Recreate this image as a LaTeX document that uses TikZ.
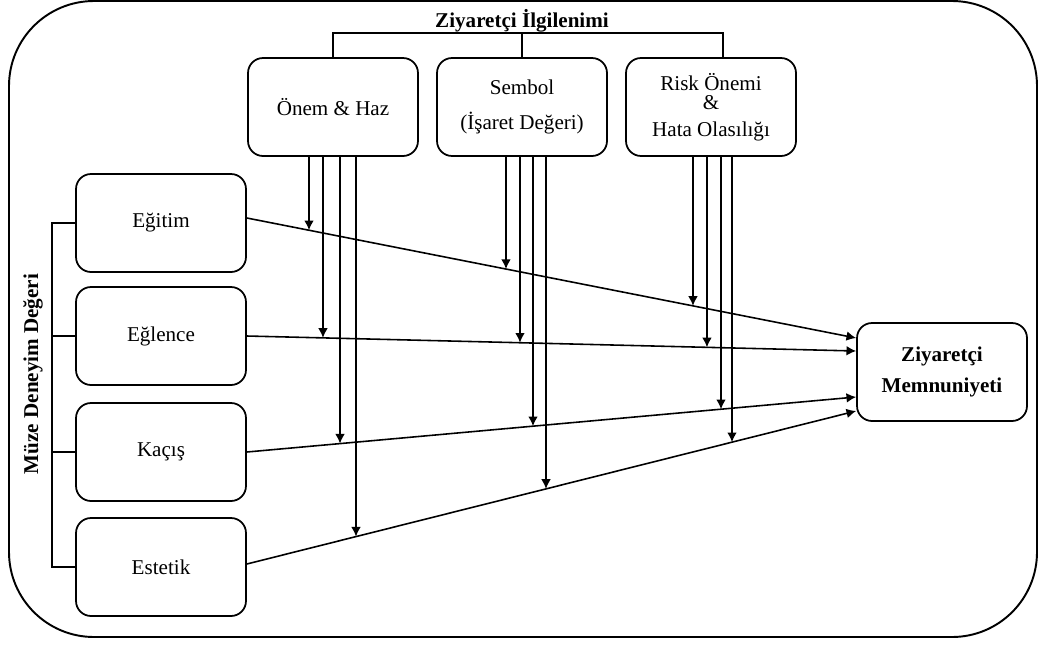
\documentclass[tikz,border=0pt]{standalone}
\usepackage{fontspec}
\setmainfont{Liberation Serif}
\usetikzlibrary{arrows.meta}

\tikzset{
  kutu/.style={draw, line width=1pt, rounded corners=0.3cm, minimum width=3.4cm,
    minimum height=1.96cm, align=center, font=\fontsize{12}{14}\selectfont},
  baslik/.style={font=\bfseries\fontsize{12}{14}\selectfont},
  ok/.style={-{Latex[length=5.5pt,width=5.5pt]}, line width=0.9pt},
}

\begin{document}
\begin{tikzpicture}[x=0.02cm, y=-0.02cm, line width=0.9pt]
    \useasboundingbox (0,0) rectangle (1040,646);
    % Dış çerçeve
    \draw[line width=1.1pt, rounded corners=1.7cm] (9,1) rectangle (1037,637);

    % Ziyaretçi ilgilenimi kutuları
    \node[baslik] (ilgi) at (522,21) {Ziyaretçi İlgilenimi};
    \node[kutu] (onem) at (333,107) {Önem \& Haz};
    \node[kutu] (sembol) at (522,107) {Sembol\\[6pt](İşaret Değeri)};
    \node[kutu] (risk) at (711,107) {Risk Önemi\\[-3pt]\&\\[1pt]Hata Olasılığı};
    \coordinate (bar) at (522,33);
    \draw (onem.north) |- (bar) -| ([xshift=0.24cm]risk.north);
    \draw (sembol.north) -- (bar);

    % Müze deneyim değeri kutuları
    \node[kutu] (egitim) at (161,223) {Eğitim};
    \node[kutu] (eglence) at (161,336) {Eğlence};
    \node[kutu] (kacis) at (161,452) {Kaçış};
    \node[kutu] (estetik) at (161,567) {Estetik};
    \node[baslik, rotate=90] (muze) at (33,374) {Müze Deneyim Değeri};
    \draw (egitim.west) -- ++(-23,0) coordinate (k1) |- (estetik.west);
    \draw (eglence.west) -- (eglence.west -| k1);
    \draw (kacis.west) -- (kacis.west -| k1);

    % Memnuniyet
    \node[kutu, baslik] (memnun) at (942,372) {Ziyaretçi\\[4pt]Memnuniyeti};

    % Ana yollar
    \coordinate (s1) at ([yshift=0.1cm]egitim.east);
    \coordinate (s2) at (eglence.east);
    \coordinate (s3) at (kacis.east);
    \coordinate (s4) at ([yshift=0.06cm]estetik.east);
    \coordinate (t1) at ([yshift=0.68cm]memnun.west);
    \coordinate (t2) at ([yshift=0.42cm]memnun.west);
    \coordinate (t3) at ([yshift=-0.5cm]memnun.west);
    \coordinate (t4) at ([yshift=-0.78cm]memnun.west);
    \foreach \i in {1,...,4}
        \draw[ok] (s\i) -- (t\i);

    % Düzenleyici etkiler
    \foreach \kx/\vx/\hd in {onem/309/1, onem/323/2, onem/340/3, onem/356/4,
                             sembol/506/1, sembol/520/2, sembol/533/3, sembol/546/4,
                             risk/693/1, risk/707/2, risk/721/3, risk/732/4}
        \draw[ok] (\vx,0 |- \kx.south) -- (intersection cs: first line={(s\hd)--(t\hd)},
                                                       second line={(\vx,0)--(\vx,100)});
\end{tikzpicture}
\end{document}
